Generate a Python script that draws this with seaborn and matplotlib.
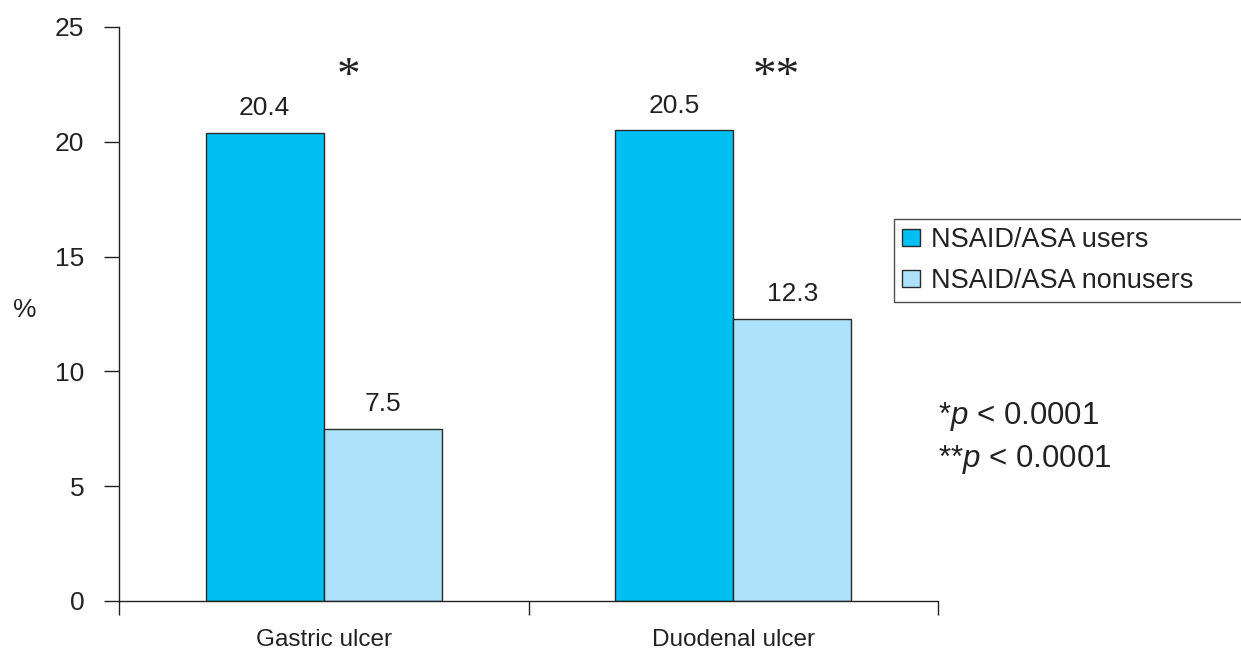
import pandas as pd
import seaborn as sns
import matplotlib.pyplot as plt

# data
categories = ["Gastric ulcer", "Duodenal ulcer"]
groups = ["NSAID/ASA users", "NSAID/ASA nonusers"]
users = [20.4, 20.5]
nonusers = [7.5, 12.3]
stars = ["*", "**"]

df = pd.DataFrame({
    "ulcer": categories * 2,
    "group": [groups[0]] * 2 + [groups[1]] * 2,
    "pct": users + nonusers,
})

sns.set_style("ticks")
plt.rcParams["font.family"] = ["Liberation Sans", "DejaVu Sans"]
plt.rcParams["mathtext.fontset"] = "custom"
plt.rcParams["mathtext.rm"] = "Liberation Sans"
plt.rcParams["mathtext.it"] = "Liberation Sans:italic"

ink = "#222222"
fig = plt.figure(figsize=(12.41, 6.5), dpi=100)
ax = fig.add_axes([119 / 1241, 1 - 601 / 650, (938 - 119) / 1241, (601 - 27) / 650])

sns.barplot(data=df, x="ulcer", y="pct", hue="group", order=categories,
            hue_order=groups, palette=["#00bff2", "#ade1f9"], width=0.577,
            edgecolor="#2a2a2a", linewidth=1, saturation=1, ax=ax)

for cont in ax.containers:
    ax.bar_label(cont, fmt="%.1f", padding=9, fontsize=19, color=ink)

for i, s in enumerate(stars):
    ax.text(i + 0.06 + 0.045 * (len(s) - 1), 22.8, s, ha="center", va="center",
            fontsize=34, family="Liberation Serif", color=ink)

ax.set_xlim(-0.5, 1.5)
ax.set_ylim(0, 25)
ax.set_yticks(range(0, 26, 5))
ax.set_xticks([-0.5, 0.5, 1.5], minor=True)
ax.tick_params(axis="x", which="major", length=0, pad=20, labelsize=17.5, labelcolor=ink)
ax.tick_params(axis="x", which="minor", length=10, width=1, direction="out", color=ink)
ax.tick_params(axis="y", length=11, width=1, direction="out", pad=14, labelsize=19,
               color=ink, labelcolor=ink)
ax.set_xlabel("")
ax.set_ylabel("%", rotation=0, fontsize=19, va="center", ha="center", color=ink)
ax.yaxis.set_label_coords((25 - 119) / 819, (601 - 310) / 574)
sns.despine(ax=ax)
for sp in ["left", "bottom"]:
    ax.spines[sp].set_linewidth(1)
    ax.spines[sp].set_color(ink)

leg = ax.legend(loc="upper left",
                bbox_to_anchor=(894 / 1241, 1 - 297 / 650, 420 / 1241, 78 / 650),
                bbox_transform=fig.transFigure, mode="expand", frameon=True,
                fancybox=False, fontsize=19.5, handlelength=0.67, handleheight=0.6,
                handletextpad=0.4, labelspacing=0.55, borderaxespad=0, borderpad=0.3)
leg.get_frame().set_edgecolor(ink)
leg.get_frame().set_linewidth(1)
for t in leg.get_texts():
    t.set_color(ink)

fig.text(938 / 1241, 1 - 424 / 650, r"*$\mathit{p}$ < 0.0001", fontsize=22.5,
         va="baseline", color=ink)
fig.text(938 / 1241, 1 - 467 / 650, r"**$\mathit{p}$ < 0.0001", fontsize=22.5,
         va="baseline", color=ink)

fig.savefig("out.png", dpi=100)
